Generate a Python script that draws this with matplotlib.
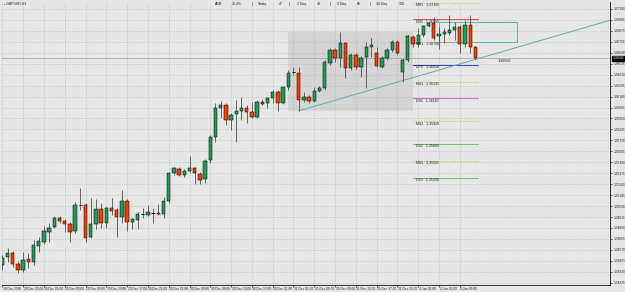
import matplotlib
matplotlib.use("Agg")
import matplotlib.pyplot as plt
from matplotlib.patches import Rectangle
from matplotlib import font_manager
import numpy as np

# ---------------- data (GBPUSD H1) ----------------
opens = [1.34412, 1.34496, 1.34538, 1.34422, 1.34359, 1.34475, 1.34443, 1.34611, 1.34653, 1.34758,
         1.34811, 1.34905, 1.34874, 1.34842, 1.34769, 1.35042, 1.35042, 1.34706, 1.34842, 1.35000,
         1.34853, 1.35010, 1.34989, 1.34916, 1.35084, 1.34863, 1.34884, 1.34947, 1.34937, 1.34958,
         1.34958, 1.34947, 1.35084, 1.35378, 1.35420, 1.35357, 1.35399, 1.35430, 1.35367, 1.35315,
         1.35514, 1.35756, 1.36060, 1.36092, 1.35934, 1.35997, 1.36029, 1.36060, 1.36018, 1.35966,
         1.36123, 1.36113, 1.36165, 1.36228, 1.36113, 1.36281, 1.36438, 1.36428, 1.36144, 1.36176,
         1.36134, 1.36239, 1.36270, 1.36533, 1.36669, 1.36585, 1.36743, 1.36480, 1.36617, 1.36491,
         1.36596, 1.36701, 1.36638, 1.36491, 1.36585, 1.36669, 1.36753, 1.36438, 1.36564, 1.36806,
         1.36732, 1.36827, 1.36921, 1.36953, 1.36816, 1.36837, 1.36848, 1.36879, 1.36911, 1.36732,
         1.36932, 1.36701]
highs = [1.34517, 1.34590, 1.34559, 1.34454, 1.34548, 1.34538, 1.34674, 1.34706, 1.34821, 1.34853,
         1.34926, 1.34926, 1.34895, 1.34863, 1.35073, 1.35220, 1.35063, 1.35115, 1.35105, 1.35063,
         1.35021, 1.35115, 1.35010, 1.35199, 1.35105, 1.34905, 1.34968, 1.35010, 1.35042, 1.35010,
         1.35052, 1.35126, 1.35388, 1.35441, 1.35441, 1.35420, 1.35556, 1.35441, 1.35388, 1.35525,
         1.35777, 1.36113, 1.36134, 1.36113, 1.36008, 1.36144, 1.36176, 1.36092, 1.36123, 1.36144,
         1.36155, 1.36176, 1.36249, 1.36249, 1.36291, 1.36459, 1.36491, 1.36491, 1.36228, 1.36197,
         1.36281, 1.36291, 1.36564, 1.36690, 1.36690, 1.36858, 1.36753, 1.36638, 1.36638, 1.36606,
         1.36753, 1.36795, 1.36701, 1.36606, 1.36690, 1.36774, 1.36774, 1.36585, 1.36827, 1.36827,
         1.36900, 1.36932, 1.36963, 1.37016, 1.36911, 1.36900, 1.37037, 1.36963, 1.36932, 1.36984,
         1.37037, 1.36711]
lows = [1.34359, 1.34443, 1.34391, 1.34328, 1.34338, 1.34380, 1.34412, 1.34548, 1.34632, 1.34653,
        1.34800, 1.34853, 1.34758, 1.34653, 1.34748, 1.34989, 1.34653, 1.34695, 1.34790, 1.34800,
        1.34800, 1.34937, 1.34706, 1.34853, 1.34769, 1.34790, 1.34790, 1.34905, 1.34926, 1.34853,
        1.34937, 1.34905, 1.35063, 1.35357, 1.35346, 1.35336, 1.35388, 1.35262, 1.35262, 1.35273,
        1.35483, 1.35703, 1.35955, 1.35882, 1.35829, 1.35703, 1.35934, 1.35903, 1.35955, 1.35955,
        1.36092, 1.36060, 1.36113, 1.36029, 1.36102, 1.36249, 1.36407, 1.36029, 1.36123, 1.36113,
        1.36123, 1.36228, 1.36249, 1.36512, 1.36543, 1.36491, 1.36375, 1.36459, 1.36470, 1.36386,
        1.36270, 1.36596, 1.36491, 1.36480, 1.36564, 1.36648, 1.36617, 1.36333, 1.36543, 1.36701,
        1.36701, 1.36806, 1.36911, 1.36774, 1.36680, 1.36743, 1.36827, 1.36774, 1.36638, 1.36701,
        1.36638, 1.36575]
closes = [1.34485, 1.34538, 1.34422, 1.34359, 1.34464, 1.34443, 1.34622, 1.34664, 1.34769, 1.34800,
          1.34905, 1.34874, 1.34842, 1.34758, 1.35042, 1.35042, 1.34695, 1.34842, 1.35000, 1.34853,
          1.35010, 1.34979, 1.34916, 1.35084, 1.34863, 1.34895, 1.34947, 1.34947, 1.34968, 1.34958,
          1.34942, 1.35084, 1.35378, 1.35430, 1.35357, 1.35399, 1.35430, 1.35378, 1.35304, 1.35504,
          1.35756, 1.36060, 1.36092, 1.35934, 1.35987, 1.36029, 1.36060, 1.36018, 1.35966, 1.36123,
          1.36107, 1.36165, 1.36228, 1.36113, 1.36281, 1.36428, 1.36438, 1.36144, 1.36176, 1.36134,
          1.36239, 1.36270, 1.36543, 1.36669, 1.36585, 1.36743, 1.36480, 1.36617, 1.36491, 1.36585,
          1.36701, 1.36722, 1.36501, 1.36585, 1.36669, 1.36753, 1.36638, 1.36564, 1.36816, 1.36732,
          1.36827, 1.36921, 1.36953, 1.36795, 1.36837, 1.36858, 1.36879, 1.36911, 1.36732, 1.36932,
          1.36701, 1.36582]

x_labels = ["28 Dec 2020", "28 Dec 21:00", "29 Dec 01:00", "29 Dec 05:00", "29 Dec 09:00",
            "29 Dec 13:00", "29 Dec 17:00", "29 Dec 21:00", "30 Dec 01:00", "30 Dec 05:00",
            "30 Dec 09:00", "30 Dec 13:00", "30 Dec 17:00", "30 Dec 21:00", "31 Dec 01:00",
            "31 Dec 05:00", "31 Dec 09:00", "31 Dec 13:00", "31 Dec 17:00", "31 Dec 21:00",
            "4 Jan 01:00", "4 Jan 05:00", "4 Jan 09:00"]
bars_per_label = 4

y_ticks = [1.37100, 1.36985, 1.36870, 1.36755, 1.36640, 1.36525, 1.36410, 1.36295, 1.36180,
           1.36065, 1.35950, 1.35835, 1.35720, 1.35605, 1.35490, 1.35375, 1.35260, 1.35145,
           1.35030, 1.34915, 1.34800, 1.34685, 1.34570, 1.34455, 1.34340, 1.34225]

current_price = 1.36582

# pivot levels of the day (name, value, color, style)
level_names = ["MR2", "DR1", "MR1", "DPV", "MS1", "DS1", "MS2", "DS2", "MS3", "DS3"]
level_values = [1.37165, 1.36990, 1.36750, 1.36510, 1.36335, 1.36160, 1.35920, 1.35680, 1.35505, 1.35330]
level_colors = ["#c8b820", "#e05050", "#c8b820", "#3040c0", "#c8b820", "#d070d0",
                "#c8b820", "#70c070", "#c8b820", "#70c070"]
level_styles = [":", "-", ":", "-", ":", "-", ":", "-", ":", "-"]
level_start_bar = 79
level_end_bar = 91.4

# previous-day range box
prev_day_start, prev_day_end = 55, 79
prev_day_high, prev_day_low = 1.36860, 1.36030

# teal box
box_start, box_end = 84, 99
box_high, box_low = 1.36960, 1.36750

# trend line anchors
trend_bars = [57, 91]
trend_prices = [1.36030, 1.36570]

header_items = ["ADR", "36.2%", "|", "Today", "47", "|", "1 Day", "48", "|", "5 Day", "96", "|", "10 Day", "130"]

# ---------------- fonts ----------------
avail = {f.name for f in font_manager.fontManager.ttflist}
fam = [f for f in ["Liberation Sans Narrow", "Liberation Sans", "DejaVu Sans"] if f in avail]
plt.rcParams["font.family"] = fam
narrow = "Liberation Sans Narrow" in avail
fs_tick = 2.7 if narrow else 2.3
fs_txt = 2.9 if narrow else 2.5

# ---------------- figure ----------------
W, H = 625, 292
fig = plt.figure(figsize=(W / 100, H / 100), dpi=100)
bg = "#e6e6e6"
fig.patch.set_facecolor(bg)
ax = fig.add_axes([2 / W, 7 / H, 608 / W, 283 / H])
ax.set_facecolor(bg)

n = len(opens)
x = np.arange(n)
ax.set_xlim(-0.06, 116.87)
ax.set_ylim(1.342015, 1.37173)

# grid
xt = np.arange(0, len(x_labels) * bars_per_label, bars_per_label)
for v in xt:
    ax.axvline(v, color="#b4b4b4", lw=0.5, ls=(0, (1, 1.5)), zorder=1)
for v in y_ticks:
    ax.axhline(v, color="#b4b4b4", lw=0.5, ls=(0, (1, 1.5)), zorder=1)

# previous day box
ax.add_patch(Rectangle((prev_day_start, prev_day_low), prev_day_end - prev_day_start,
                       prev_day_high - prev_day_low, facecolor="#d5d5d5", edgecolor="none", zorder=0.5))

# teal box
ax.add_patch(Rectangle((box_start, box_low), box_end - box_start, box_high - box_low,
                       facecolor="none", edgecolor="#5fb0b0", lw=0.7, zorder=2))

# trend line (ray)
slope = (trend_prices[1] - trend_prices[0]) / (trend_bars[1] - trend_bars[0])
tx = np.array([trend_bars[0], 117.5])
ax.plot(tx, trend_prices[0] + slope * (tx - trend_bars[0]), color="#5fb0b0", lw=0.7, zorder=2.5)

# levels
for nm, val, col, st in zip(level_names, level_values, level_colors, level_styles):
    ax.plot([level_start_bar, level_end_bar], [val, val], color=col, lw=0.7, ls=st, zorder=2)
    ax.text(level_start_bar + 0.5, val - 0.00002, f"{nm}   {val:.5f}", fontsize=fs_txt,
            va="top", ha="left", color="#202020", zorder=5)

# current price line
ax.axhline(current_price, color="#a8a8a8", lw=0.6, zorder=1.5)
ax.text(95.2, current_price - 0.00008, f"{current_price:.5f}", fontsize=fs_txt + 0.2, va="top", ha="left",
        color="#202020", zorder=5)

# candles
o = np.array(opens); c = np.array(closes); h = np.array(highs); l = np.array(lows)
ax.vlines(x, l, h, color="#505050", lw=0.6, zorder=3)
up = c > o
dn = c < o
eq = c == o
bw = 0.62
ax.bar(x[up], (c - o)[up], bottom=o[up], width=bw, color="#1f9d58", edgecolor="black", lw=0.35, zorder=4)
ax.bar(x[dn], (o - c)[dn], bottom=c[dn], width=bw, color="#ff3a00", edgecolor="black", lw=0.35, zorder=4)
ax.hlines(o[eq], x[eq] - bw / 2, x[eq] + bw / 2, color="black", lw=0.7, zorder=4)

# axes styling
for s in ["top", "left"]:
    ax.spines[s].set_visible(False)
ax.spines["right"].set_color("#303030")
ax.spines["bottom"].set_color("#303030")
ax.spines["right"].set_linewidth(0.7)
ax.spines["bottom"].set_linewidth(0.7)

ax.yaxis.tick_right()
ax.set_yticks(y_ticks)
ax.set_yticklabels([f"{v:.5f}" for v in y_ticks], fontsize=fs_tick)
ax.tick_params(axis="y", length=1.5, width=0.5, pad=0.8, colors="#202020")
ax.set_xticks(xt)
ax.set_xticklabels([])
ax.tick_params(axis="x", length=1.5, width=0.5, colors="#202020")
for v, lab in zip(xt, x_labels):
    ax.text(v + 0.1, -0.006, lab, transform=ax.get_xaxis_transform(), fontsize=fs_tick,
            ha="left", va="top", color="#202020")

# current price tag on axis
ax.text(1.004, current_price, f"{current_price:.5f}", transform=ax.get_yaxis_transform(),
        fontsize=fs_tick, va="center", ha="left", color="white", zorder=10,
        bbox=dict(boxstyle="square,pad=0.12", facecolor="black", edgecolor="black"))

# header
fig.text(4 / W, 1 - 4 / H, "\u25aa GBPUSD,H1", fontsize=fs_txt, va="center", ha="left", color="#202020",
         family=fam + ["DejaVu Sans"])
hx = [215, 232, 252, 258, 279, 289, 297, 317, 330, 337, 357, 370, 376, 399]
for px, t in zip(hx, header_items):
    fig.text(px / W, 1 - 4 / H, t, fontsize=fs_txt, va="center", ha="left", color="#202020")

fig.savefig("out.png", dpi=100, facecolor=bg)
